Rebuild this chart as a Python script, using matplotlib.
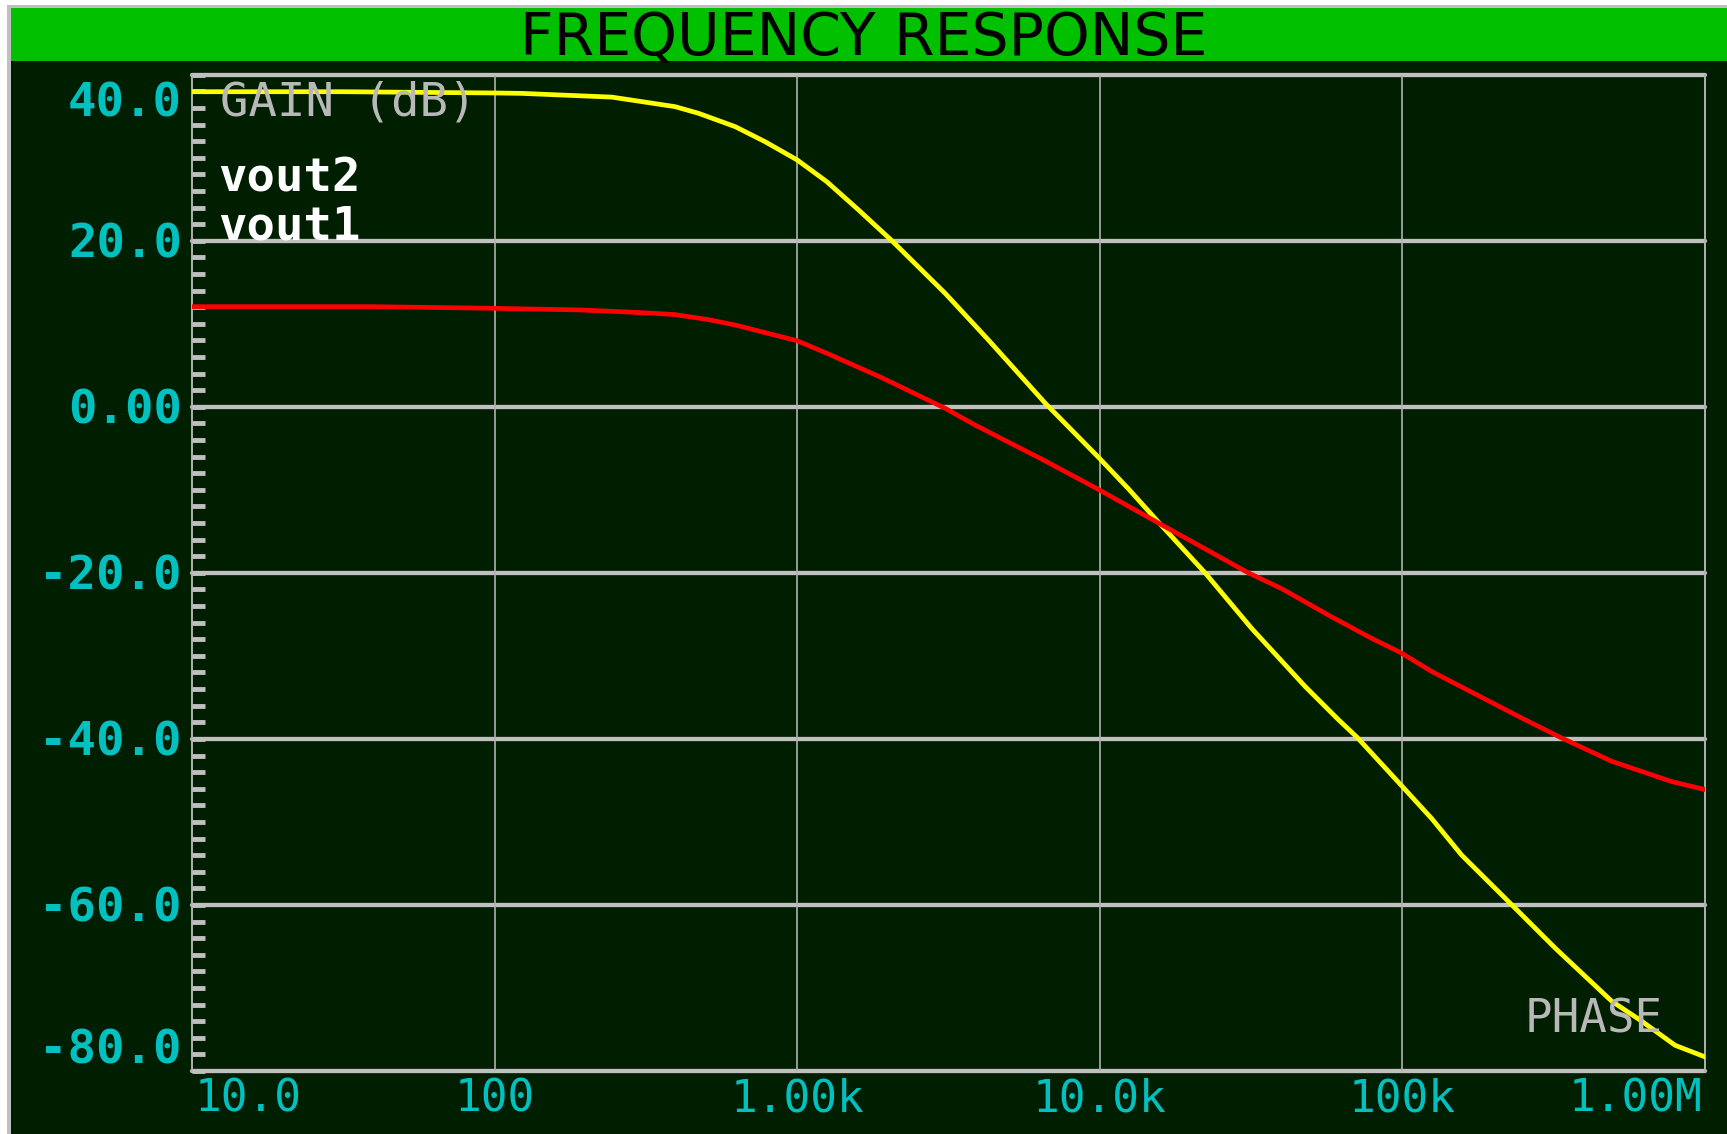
# Probe-style frequency response plot (gain of vout1 / vout2)

import matplotlib
matplotlib.use("Agg")
import matplotlib.pyplot as plt
from matplotlib.patches import Rectangle
from matplotlib.ticker import MultipleLocator, NullLocator
from matplotlib.transforms import offset_copy

# Canvas size in pixels
W, H = 1727, 1134
DPI = 100

# Data: frequency (Hz), gain (dB)
freq_vout2 = [10, 31.6, 100, 123, 244, 395, 472, 624, 783, 1000,
              1253, 1596, 2056, 3083, 4285, 6607, 9908, 12450, 15630, 22280,
              31770, 47750, 61520, 70790, 98620, 125000, 157000, 230100, 319900, 492000,
              618000, 796200, 1000000]
gain_vout2 = [37.95, 37.95, 37.8, 37.75, 37.3, 36.15, 35.35, 33.74, 31.93, 29.73,
              27.11, 23.7, 20.0, 13.67, 8.05, 0.42, -6.1, -9.9, -13.9, -20.0,
              -26.7, -33.7, -37.7, -39.8, -45.5, -49.6, -54.0, -60.0, -65.2, -71.6,
              -74.0, -76.9, -78.3]

freq_vout1 = [10, 39.8, 100, 194, 323, 395, 509, 624, 1000, 1253,
              1905, 3090, 3873, 6427, 9840, 15630, 30970, 39900, 58340, 79250,
              98620, 125300, 248300, 336500, 492000, 778000, 1000000]
gain_vout1 = [12.06, 12.06, 11.86, 11.66, 11.3, 11.1, 10.5, 9.85, 7.95, 6.45,
              3.5, -0.2, -2.2, -6.3, -9.9, -14.0, -20.0, -21.9, -25.3, -27.9,
              -29.6, -31.9, -37.5, -39.9, -42.7, -45.15, -46.1]

y_tick_values = [40, 20, 0, -20, -40, -60, -80]
y_tick_labels = ["40.0", "20.0", "0.00", "-20.0", "-40.0", "-60.0", "-80.0"]
x_tick_values = [10, 100, 1e3, 1e4, 1e5, 1e6]
x_tick_labels = ["10.0", "100", "1.00k", "10.0k", "100k", "1.00M"]

# Colors
BG = "#001e00"
BAR = "#00c000"
FRAME = "#c0c0c0"
GRID = "#c0c0c0"
VGRID = "#b0b0b0"
CYAN = "#00c0c0"
TEXT_GRAY = "#b8b8b8"
MONO = "DejaVu Sans Mono"


def px(x, y):
    """pixel (from top-left) -> figure fraction"""
    return x / W, 1 - y / H


fig = plt.figure(figsize=(W / DPI, H / DPI), dpi=DPI, facecolor="white")

# Frame, title bar and dark background (behind the axes)
fig.patches.append(Rectangle((7 / W, 0), 1, 1 - 5 / H, transform=fig.transFigure,
                             facecolor=FRAME, edgecolor="none", zorder=-3))
fig.patches.append(Rectangle((11 / W, 0), 1, 1 - 61 / H, transform=fig.transFigure,
                             facecolor=BG, edgecolor="none", zorder=-2))
fig.patches.append(Rectangle((11 / W, 1 - 61 / H), 1, 53 / H, transform=fig.transFigure,
                             facecolor=BAR, edgecolor="none", zorder=-2))

fig.text(*px(864, 55), "FREQUENCY RESPONSE", ha="center", va="baseline",
         fontsize=42, family="DejaVu Sans", color="black")

# Plot area
left, right, top, bottom = 192, 1705, 74.7, 1071
ax = fig.add_axes([left / W, 1 - bottom / H, (right - left) / W, (bottom - top) / H])
ax.set_facecolor(BG)
ax.set_xscale("log")
ax.set_xlim(10, 1e6)
ax.set_ylim(-80, 40)
for sp in ax.spines.values():
    sp.set_visible(False)

# Grid
for y in y_tick_values:
    ax.axhline(y, color=GRID, lw=3.1, solid_capstyle="round", clip_on=False, zorder=1)
for f in x_tick_values[1:-1]:
    ax.axvline(f, color=VGRID, lw=1.2, zorder=1)
ax.axvline(10, color=VGRID, lw=1.4, clip_on=False, zorder=1)
ax.axvline(1e6, color=VGRID, lw=1.4, clip_on=False, zorder=1)

# Ticks: only short inward minor ticks on the left
ax.set_xticks([])
ax.xaxis.set_minor_locator(NullLocator())
ax.set_yticks([])
ax.yaxis.set_minor_locator(MultipleLocator(2))
ax.tick_params(axis="y", which="minor", direction="in", length=9.6, width=3.5,
               color=GRID, left=True, right=False, labelleft=False)

# Curves
ax.plot(freq_vout2, gain_vout2, color="#ffff00", lw=3.4, zorder=3)
ax.plot(freq_vout1, gain_vout1, color="#ff0000", lw=3.4, zorder=4)

# Y labels (end labels tucked inside the frame)
ytrans = ax.get_yaxis_transform()
for val, lab in zip(y_tick_values, y_tick_labels):
    dy = -17
    if val == 40:
        dy = -42
    elif val == -80:
        dy = 7
    t = offset_copy(ytrans, fig=fig, x=-10, y=dy, units="dots")
    ax.text(0, val, lab, transform=t, ha="right", va="baseline", fontsize=34,
            family=MONO, fontweight="bold", color=CYAN, clip_on=False)

# X labels
xtrans = ax.get_xaxis_transform()
for i, (val, lab) in enumerate(zip(x_tick_values, x_tick_labels)):
    ha, dx = "center", 0
    if i == 0:
        ha, dx = "left", 3
    elif i == len(x_tick_values) - 1:
        ha, dx = "right", -3
    t = offset_copy(xtrans, fig=fig, x=dx, y=-40, units="dots")
    ax.text(val, 0, lab, transform=t, ha=ha, va="baseline", fontsize=32,
            family=MONO, color=CYAN, clip_on=False)

# Labels inside the plot
fig.text(*px(220, 115), "GAIN (dB)", ha="left", va="baseline", fontsize=34,
         family=MONO, color=TEXT_GRAY)
fig.text(*px(218, 191.7), "vout2", ha="left", va="baseline", fontsize=34,
         family=MONO, fontweight="bold", color="white")
fig.text(*px(218, 240), "vout1", ha="left", va="baseline", fontsize=34,
         family=MONO, fontweight="bold", color="white")
fig.text(*px(1525, 1032.7), "PHASE", ha="left", va="baseline", fontsize=33,
         family=MONO, color=TEXT_GRAY)

fig.savefig("out.png", dpi=DPI, facecolor="white")
